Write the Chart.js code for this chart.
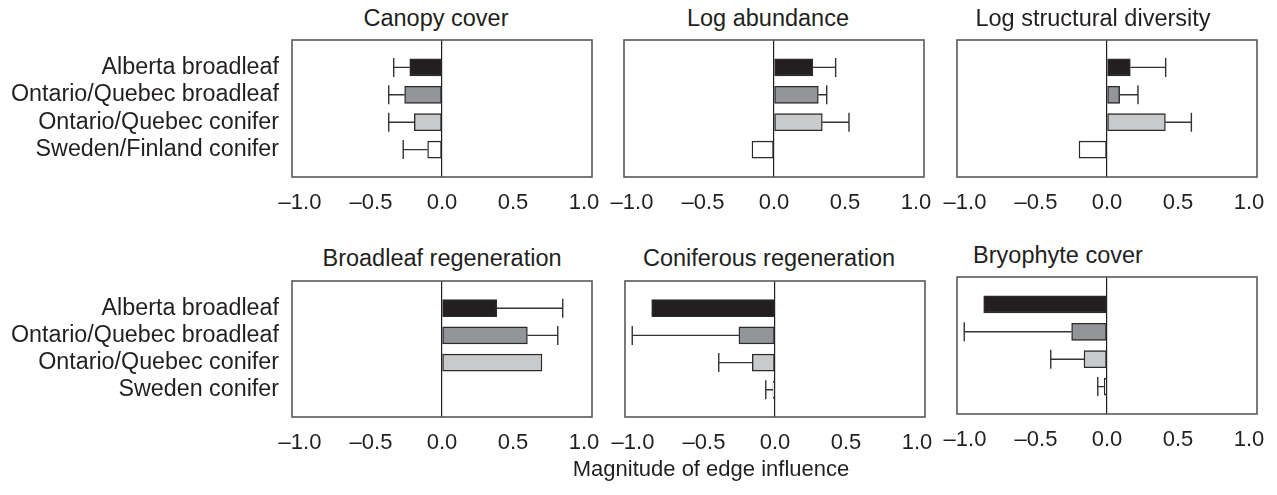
<!DOCTYPE html>
<html>
<head>
<meta charset="utf-8">
<script src="https://cdn.jsdelivr.net/npm/chart.js@4.4.1/dist/chart.umd.min.js"></script>
<style>
  html, body { margin: 0; padding: 0; background: #ffffff; }
  body { width: 1277px; height: 495px; position: relative; overflow: hidden;
         font-family: "Liberation Sans", Arial, Helvetica, sans-serif; color: #231f20; }
  canvas { position: absolute; }
  .ttl { position: absolute; width: 400px; text-align: center; font-size: 23.5px; line-height: 24px; white-space: nowrap; }
  .axt { position: absolute; width: 400px; text-align: center; font-size: 22px; line-height: 22px; white-space: nowrap; }
</style>
</head>
<body>
<script>
// ---- data ----
const categoriesTop = ['Alberta broadleaf', 'Ontario/Quebec broadleaf', 'Ontario/Quebec conifer', 'Sweden/Finland conifer'];
const categoriesBottom = ['Alberta broadleaf', 'Ontario/Quebec broadleaf', 'Ontario/Quebec conifer', 'Sweden conifer'];
const xTickValues = [-1.0, -0.5, 0.0, 0.5, 1.0];

const canopyCover      = [-0.227, -0.263, -0.195, -0.101];
const canopyCoverErr   = [-0.340, -0.375, -0.375, -0.273];
const logAbundance     = [0.273, 0.312, 0.340, -0.155];
const logAbundanceErr  = [0.434, 0.371, 0.528, null];
const logStructDiv     = [0.164, 0.089, 0.411, -0.197];
const logStructDivErr  = [0.413, 0.218, 0.594, null];
const broadleafRegen   = [0.385, 0.601, 0.704, null];
const broadleafRegenErr= [0.850, 0.815, null, null];
const coniferRegen     = [-0.868, -0.254, -0.160, -0.014];
const coniferRegenErr  = [null, -1.005, -0.396, -0.065];
const bryophyteCover   = [-0.868, -0.249, -0.162, -0.019];
const bryophyteCoverErr= [null, -1.005, -0.396, -0.065];

const titles = ['Canopy cover', 'Log abundance', 'Log structural diversity',
                'Broadleaf regeneration', 'Coniferous regeneration', 'Bryophyte cover'];
const axisTitle = 'Magnitude of edge influence';

// ---- styles / layout ----
const barColors = ['#231f20', '#939598', '#c9cacc', '#ffffff'];
const FONT = '"Liberation Sans", Arial, Helvetica, sans-serif';
const TEXT = '#231f20';
const X_LIMIT = 1.056;

const panels = [
  { title: titles[0], cats: categoriesTop,    vals: canopyCover,    err: canopyCoverErr,    boxL: 292, boxT: 40,  boxH: 137, labels: true,  titleC: 436, titleB: 26 },
  { title: titles[1], cats: categoriesTop,    vals: logAbundance,   err: logAbundanceErr,   boxL: 624, boxT: 40,  boxH: 137, labels: false, titleC: 768, titleB: 26 },
  { title: titles[2], cats: categoriesTop,    vals: logStructDiv,   err: logStructDivErr,   boxL: 957, boxT: 40,  boxH: 137, labels: false, titleC: 1093, titleB: 26 },
  { title: titles[3], cats: categoriesBottom, vals: broadleafRegen, err: broadleafRegenErr, boxL: 292, boxT: 281, boxH: 136, labels: true,  titleC: 442, titleB: 266 },
  { title: titles[4], cats: categoriesBottom, vals: coniferRegen,   err: coniferRegenErr,   boxL: 625, boxT: 281, boxH: 136, labels: false, titleC: 769, titleB: 266 },
  { title: titles[5], cats: categoriesBottom, vals: bryophyteCover, err: bryophyteCoverErr, boxL: 957, boxT: 277, boxH: 137, labels: false, titleC: 1058, titleB: 263 },
];

const BOX_W = 300, PAD_T = 6, PAD_R = 20, X_H = 42;

function fmtTick(v) {
  if (Math.abs(v) < 1e-9) return '0.0';
  return (v < 0 ? '\u2013' : '') + Math.abs(v).toFixed(1);
}

function makeFramePlugin(p) {
  return {
    id: 'frame',
    afterDatasetsDraw(chart) {
      const ctx = chart.ctx, a = chart.chartArea;
      const xs = chart.scales.x, ys = chart.scales.y;
      ctx.save();
      // error bars (one-sided, from bar end)
      ctx.strokeStyle = '#333333';
      ctx.lineWidth = 1.4;
      p.err.forEach((e, i) => {
        if (e === null || p.vals[i] === null) return;
        const x0 = xs.getPixelForValue(p.vals[i]);
        const x1 = xs.getPixelForValue(e);
        const y = ys.getPixelForValue(i + 1);
        ctx.beginPath();
        ctx.moveTo(x0, y); ctx.lineTo(x1, y);
        ctx.moveTo(x1, y - 9.5); ctx.lineTo(x1, y + 9.5);
        ctx.stroke();
      });
      // panel frame
      ctx.strokeStyle = '#58595b';
      ctx.lineWidth = 1.6;
      ctx.strokeRect(a.left, a.top, a.right - a.left, a.bottom - a.top);
      ctx.restore();
    }
  };
}

panels.forEach((p) => {
  const yW = p.labels ? p.boxL : 20;
  const left = p.boxL - yW;
  const top = p.boxT - PAD_T;
  const w = yW + BOX_W + PAD_R;
  const h = PAD_T + p.boxH + X_H;

  const cv = document.createElement('canvas');
  cv.style.left = left + 'px';
  cv.style.top = top + 'px';
  cv.style.width = w + 'px';
  cv.style.height = h + 'px';
  cv.width = w; cv.height = h;
  document.body.appendChild(cv);

  const t = document.createElement('div');
  t.className = 'ttl';
  t.textContent = p.title;
  t.style.left = (p.titleC - 200) + 'px';
  t.style.top = (p.titleB - 20) + 'px';
  document.body.appendChild(t);

  const labels = [''].concat(p.cats, ['']);
  const values = [null].concat(p.vals, [null]);
  const colors = ['#fff'].concat(barColors, ['#fff']);

  new Chart(cv, {
    type: 'bar',
    data: {
      labels: labels,
      datasets: [{
        data: values,
        backgroundColor: colors,
        borderColor: '#2b2b2b',
        borderWidth: 1.4,
        borderSkipped: false,
        barThickness: 17
      }]
    },
    options: {
      indexAxis: 'y',
      responsive: false,
      animation: false,
      devicePixelRatio: 1,
      layout: { padding: { top: PAD_T, right: PAD_R, left: 0, bottom: 0 } },
      plugins: { legend: { display: false }, tooltip: { enabled: false }, title: { display: false } },
      scales: {
        x: {
          type: 'linear',
          min: -X_LIMIT, max: X_LIMIT,
          afterBuildTicks: s => { s.ticks = xTickValues.map(v => ({ value: v })); },
          afterFit: s => { s.height = X_H; s.paddingLeft = 0; s.paddingRight = 0; },
          border: { display: false },
          grid: {
            drawTicks: false,
            color: c => (c.tick && Math.abs(c.tick.value) < 1e-9) ? '#231f20' : 'rgba(0,0,0,0)',
            lineWidth: 1.2
          },
          ticks: {
            autoSkip: false, maxRotation: 0, padding: 13,
            color: TEXT, font: { family: FONT, size: 22 },
            callback: v => fmtTick(v)
          }
        },
        y: {
          type: 'category',
          offset: false,
          afterFit: s => { s.width = yW; s.paddingTop = 0; s.paddingBottom = 0; },
          border: { display: false },
          grid: { display: false, drawTicks: false },
          ticks: {
            display: p.labels,
            autoSkip: false, padding: 13,
            color: TEXT, font: { family: FONT, size: 23.3 }
          }
        }
      }
    },
    plugins: [makeFramePlugin(p)]
  });
});

const ax = document.createElement('div');
ax.className = 'axt';
ax.textContent = axisTitle;
ax.style.left = (711 - 200) + 'px';
ax.style.top = (477 - 18.6) + 'px';
document.body.appendChild(ax);
</script>
</body>
</html>
